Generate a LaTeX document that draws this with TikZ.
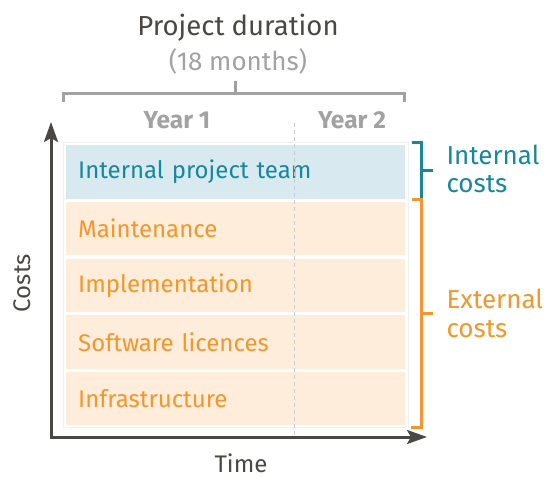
\documentclass[tikz,border=0pt]{standalone}
\usepackage{fontspec}
\setmainfont{Fira Sans}
\usetikzlibrary{positioning,arrows.meta}

\definecolor{ink}{HTML}{4A4843}
\definecolor{greytext}{HTML}{A2A2A2}
\definecolor{intteal}{HTML}{16889C}
\definecolor{intbg}{HTML}{D8E9EF}
\definecolor{extorange}{HTML}{F5962A}
\definecolor{extbg}{HTML}{FEEDDB}
\definecolor{gridline}{HTML}{C9CDD3}

\begin{document}
\begin{tikzpicture}[x=1pt,y=-1pt,
    rowbox/.style={anchor=north west, minimum height=53.3pt, text width=315pt,
      inner xsep=12pt, inner ysep=0pt, align=left, font=\fontsize{24}{27}\selectfont},
    introw/.style={rowbox, fill=intbg, text=intteal},
    extrow/.style={rowbox, fill=extbg, text=extorange},
    axis/.style={draw=ink, line width=3pt, line join=miter},
    brace/.style={line width=3pt},
    yearlbl/.style={anchor=base, text=greytext, font=\fontsize{24.5}{26}\selectfont\bfseries},
  ]
  \useasboundingbox (0,0) rectangle (550,477);

  % headline
  \node[anchor=base, text=ink, font=\fontsize{27.5}{30}\selectfont] (title) at (238,35) {Project duration};
  \node[anchor=base, text=greytext, font=\fontsize{26}{29}\selectfont] (months) at (238,70) {(18 months)};
  \draw[greytext, brace] (63,102) -- (63,93) -- (404,93) -- (404,102);
  \draw[greytext, brace] (235,93) -- (235,81);

  \node[yearlbl] (year1) at (177,128) {Year 1};
  \node[yearlbl] (year2) at (352,128) {Year 2};

  % cost blocks
  \draw[draw=black!6, line width=1pt] (63,142) rectangle (408,427);
  \node[introw] (team) at (66,145) {Internal project team};
  \node[extrow, below=3pt of team] (maint) {Maintenance};
  \node[extrow, below=3pt of maint] (impl) {Implementation};
  \node[extrow, below=3pt of impl] (soft) {Software licences};
  \node[extrow, below=3pt of soft] (infra) {Infrastructure};

  \draw[gridline, line width=1pt, dash pattern=on 4pt off 3pt] (294,123) -- (294,437);

  % axes
  \coordinate (origin) at (51,437);
  \coordinate (ytip) at (51,122);
  \coordinate (xtip) at (427,437);
  \draw[axis, {Stealth[length=20pt,width=14pt,inset=4pt]}-{Stealth[length=20pt,width=14pt,inset=4pt]}]
    (ytip) -- (origin) -- (xtip);
  \node[rotate=90, text=ink, font=\fontsize{24}{27}\selectfont] (costs) at (22,283) {Costs};
  \node[anchor=base, text=ink, font=\fontsize{24}{27}\selectfont] (time) at (241,472) {Time};

  % brackets on the right
  \draw[intteal, brace] (412,142) -- (421,142) -- (421,199) -- (412,199);
  \draw[intteal, brace] (421,170) -- (433,170);
  \draw[extorange, brace] (412,199) -- (421,199) -- (421,427) -- (411,427);
  \draw[extorange, brace] (421,313) -- (433,313);

  \node[anchor=base west, text=intteal, align=left, font=\fontsize{26}{28}\selectfont]
    (intlbl) at (443,192) {Internal\\costs};
  \node[anchor=base west, text=extorange, align=left, font=\fontsize{26}{29}\selectfont]
    (extlbl) at (443,337) {External\\costs};
\end{tikzpicture}
\end{document}
